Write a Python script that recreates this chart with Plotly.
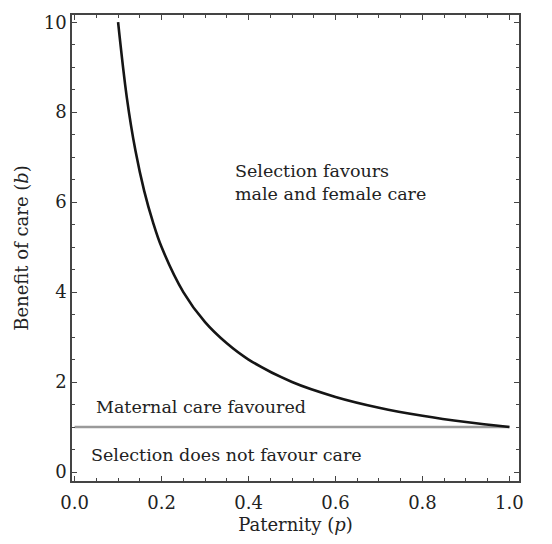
import plotly.graph_objects as go

# Threshold benefit of care b against paternity p (points read along the boundary)
paternity = [0.10, 0.12, 0.14, 0.16, 0.18, 0.20, 0.25, 0.30, 0.35, 0.40,
             0.50, 0.60, 0.70, 0.80, 0.90, 1.00]
benefit = [10.0, 8.33, 7.14, 6.25, 5.56, 5.00, 4.00, 3.33, 2.86, 2.50,
           2.00, 1.67, 1.43, 1.25, 1.11, 1.00]

# Maternal-care threshold (b = 1)
maternal_p = [0.0, 1.0]
maternal_b = [1.0, 1.0]

x_ticks = [0.0, 0.2, 0.4, 0.6, 0.8, 1.0]
x_tick_labels = ["0.0", "0.2", "0.4", "0.6", "0.8", "1.0"]
y_ticks = [0, 2, 4, 6, 8, 10]

FONT = "DejaVu Serif"
TEXT = "#222222"
AXIS = "#444444"

fig = go.Figure()
fig.add_trace(go.Scatter(x=maternal_p, y=maternal_b, mode="lines",
                         line=dict(color="#9a9a9a", width=2.6),
                         hoverinfo="skip", showlegend=False))
fig.add_trace(go.Scatter(x=paternity, y=benefit, mode="lines",
                         line=dict(color="#151515", width=2.6, shape="spline", smoothing=1.0),
                         showlegend=False))

fig.add_annotation(x=0.365, y=6.43, xref="x", yref="y",
                   text="Selection favours<br>male and female care",
                   showarrow=False, xanchor="left", yanchor="middle", align="left",
                   font=dict(family=FONT, size=17.5, color=TEXT))
fig.add_annotation(x=0.045, y=1.45, xref="x", yref="y",
                   text="Maternal care favoured",
                   showarrow=False, xanchor="left", yanchor="middle",
                   font=dict(family=FONT, size=17.5, color=TEXT))
fig.add_annotation(x=0.033, y=0.38, xref="x", yref="y",
                   text="Selection does not favour care",
                   showarrow=False, xanchor="left", yanchor="middle",
                   font=dict(family=FONT, size=17.5, color=TEXT))

axis_common = dict(showgrid=False, zeroline=False, showline=True, linecolor=AXIS,
                   linewidth=1.5, mirror="allticks", ticks="inside", ticklen=5,
                   tickwidth=1.2, tickcolor=AXIS,
                   tickfont=dict(family=FONT, size=18, color=TEXT))

fig.update_xaxes(range=[-0.006, 1.022], tickvals=x_ticks, ticktext=x_tick_labels,
                 ticklabelstandoff=5,
                 minor=dict(dtick=0.05, ticks="inside", ticklen=3, tickcolor=AXIS, tickwidth=1),
                 title=dict(text="Paternity (<i>p</i>)", font=dict(family=FONT, size=18, color=TEXT),
                            standoff=6),
                 **axis_common)
fig.update_yaxes(range=[-0.2, 10.16], tickvals=y_ticks,
                 minor=dict(dtick=0.5, ticks="inside", ticklen=3, tickcolor=AXIS, tickwidth=1),
                 title=dict(text="Benefit of care (<i>b</i>)", font=dict(family=FONT, size=18, color=TEXT),
                            standoff=10),
                 **axis_common)

fig.update_layout(width=552, height=544, margin=dict(l=72, r=33, t=15, b=56),
                  paper_bgcolor="white", plot_bgcolor="white",
                  font=dict(family=FONT, color=TEXT))

fig.write_html("out.html")
